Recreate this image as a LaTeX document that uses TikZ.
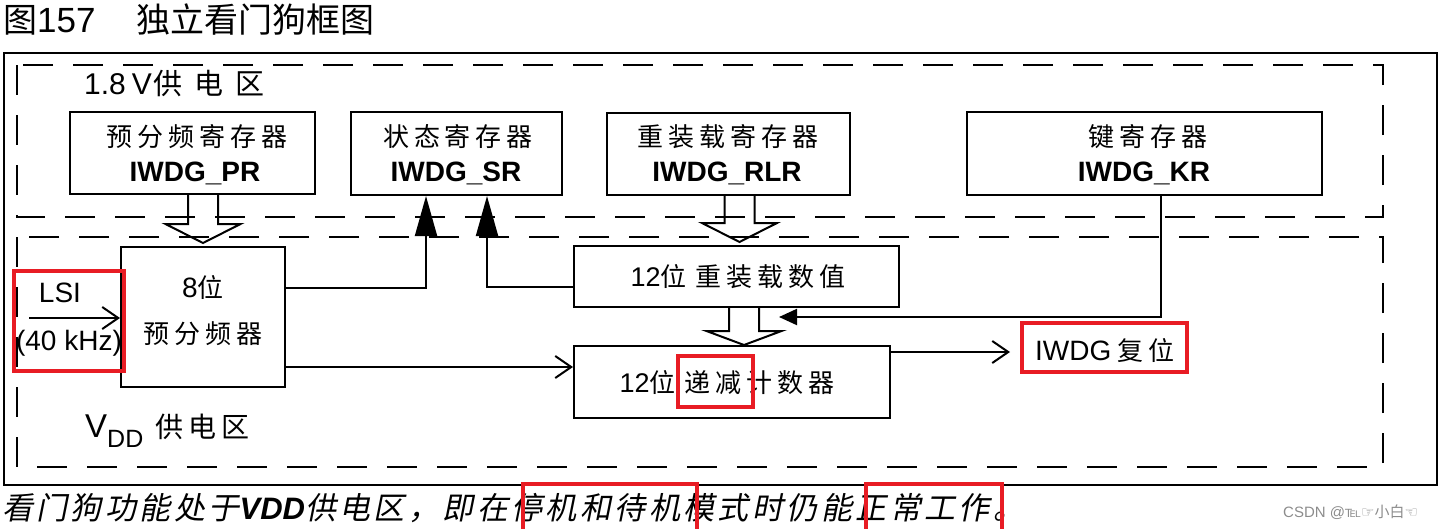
\documentclass[tikz,border=0pt]{standalone}
\usepackage{fontspec}
\setmainfont{Liberation Sans}
\newfontfamily\cjk{Noto Sans CJK SC}
\newfontfamily\cjkA[LetterSpace=19]{Noto Sans CJK SC}
\newfontfamily\cjkC[LetterSpace=41]{Noto Sans CJK SC}
\newfontfamily\cjkI[LetterSpace=11,FakeSlant=0.2]{Noto Sans CJK SC}
\newfontfamily\symf{DejaVu Sans}
\usetikzlibrary{arrows.meta}
\newcommand\fsz[1]{\fontsize{#1}{#1}\selectfont}
\definecolor{mkred}{RGB}{232,28,36}
\tikzset{
  ln/.style={line width=2pt},
  regbox/.style={draw, line width=2pt, inner sep=0pt},
  zone/.style={draw, line width=2pt, dash pattern=on 30pt off 20pt},
  hl/.style={draw=mkred, line width=4pt},
  txt/.style={inner sep=0pt, anchor=base},
  tri/.style={-{Triangle[length=40pt,width=22pt]}},
  smalltri/.style={-{Triangle[length=18pt,width=16pt]}},
  opn/.style={-{Straight Barb[length=16pt,width=22pt]}},
  pics/blk/.style n args={2}{code={
    \draw[line width=2pt] (-15,0) -- (-15,#1) -- (-37.5,#1) -- (0,#2) -- (37.5,#1) -- (15,#1) -- (15,0);}}
}
\begin{document}
\begin{tikzpicture}[x=1pt,y=-1pt]
\useasboundingbox (0,0) rectangle (1443,528);

% title
\node[txt, anchor=base west, font=\fsz{35}] (t1) at (3,32) {{\cjk\fsz{34}图}157};
\node[txt, anchor=base west, font=\fsz{34}\cjk] (t2) at (136,32) {独立看门狗框图};

% frames
\draw[ln] (4,53) rectangle (1437,485);
\draw[zone] (17,65) rectangle (1383,217);
\draw[zone] (17,237) rectangle (1383,467);

\node[txt, anchor=base west] (z1) at (84,94) {{\fsz{30}1.8\hspace{6pt}V}\hspace{2pt}{\fsz{29}\cjkC 供电区}};
\node[txt, anchor=base west] (z2) at (85,437) {{\fsz{33}V}{\fsz{25}\raisebox{-10pt}{DD}}\hspace{12pt}{\fsz{28}\cjkA 供电区}};

% register boxes
\node[regbox, minimum width=245pt, minimum height=82pt] (pr) at (192.5,153) {};
\node[regbox, minimum width=211pt, minimum height=83pt] (sr) at (456.5,153.5) {};
\node[regbox, minimum width=243pt, minimum height=82pt] (rlr) at (728.5,154) {};
\node[regbox, minimum width=355pt, minimum height=83pt] (kr) at (1144.5,153.5) {};

\node[txt, font=\fsz{26}\cjkA] (prcn) at (197,146) {预分频寄存器};
\node[txt, font=\fsz{28}\bfseries] (prid) at (195,181) {IWDG\_PR};
\node[txt, font=\fsz{26}\cjkA] (srcn) at (458,146) {状态寄存器};
\node[txt, font=\fsz{28}\bfseries] (srid) at (456,181) {IWDG\_SR};
\node[txt, font=\fsz{26}\cjkA] (rlrcn) at (728,146) {重装载寄存器};
\node[txt, font=\fsz{28}\bfseries] (rlrid) at (727,181) {IWDG\_RLR};
\node[txt, font=\fsz{26}\cjkA] (krcn) at (1148,146) {键寄存器};
\node[txt, font=\fsz{28}\bfseries] (krid) at (1144,181) {IWDG\_KR};

% VDD domain blocks
\node[regbox, minimum width=164pt, minimum height=140pt] (pre) at (203,317) {};
\node[regbox, minimum width=325pt, minimum height=61pt] (rel) at (736.5,276.5) {};
\node[regbox, minimum width=316pt, minimum height=72pt] (cnt) at (732,382) {};

\node[txt] (pre1) at (203,297) {{\fsz{28}8}{\fsz{26}\cjkA 位}};
\node[txt, font=\fsz{26}\cjkA] (pre2) at (203,343) {预分频器};
\node[txt] (relt) at (738,286) {{\fsz{27}12}{\fsz{26}\cjkA 位}\hspace{9pt}{\fsz{26}\cjkA 重装载数值}};
\node[txt] (cntt) at (727,392) {{\fsz{27}12}{\fsz{26}\cjkA 位}\hspace{9pt}{\fsz{26}\cjkA 递减计数器}};

\node[txt, font=\fsz{28}] (lsi) at (60,302) {LSI};
\node[txt, font=\fsz{28}] (khz) at (69,350) {(40 kHz)};
\node[txt, anchor=base west] (rst) at (1035,360) {{\fsz{28}IWDG}\hspace{6pt}{\fsz{26}\cjkA 复位}};

% connectors
\coordinate (lsiin) at (29,318);
\draw[ln, opn] (lsiin) -- (lsiin -| pre.west);

\coordinate (k1) at (426,288);
\draw[ln, tri] (pre.east |- k1) -- (k1) -- (k1 |- sr.south);
\coordinate (k2) at (487,287);
\draw[ln, tri] (rel.west |- k2) -- (k2) -- (k2 |- sr.south);

\coordinate (k3) at (285,367);
\draw[ln, opn] (pre.east |- k3) -- (k3 -| cnt.west);

\coordinate (k4) at (1010,352);
\draw[ln, opn] (cnt.east |- k4) -- (k4);

\coordinate (k5) at (1161,317);
\coordinate (k6) at (779,317);
\draw[ln, smalltri] (kr.south -| k5) -- (k5) -- (k6);

% hollow block arrows
\pic at (pre.north |- pr.south) {blk={29}{48}};
\coordinate (b2) at (739.5,195);
\pic at (b2) {blk={28}{47}};
\coordinate (b3) at (744,307);
\pic at (b3) {blk={24}{38}};

% caption
\node[txt, anchor=base west, font=\fsz{31}] (cap) at (2,519) {{\cjkI 看门狗功能处于}{\bfseries\itshape VDD}{\cjkI 供电区，即在停机和待机模式时仍能正常工作。}};
\node[txt, anchor=base west, font=\fsz{15}, text=black!45] (wm) at (1283,517) {CSDN @{\symf ℡☞}{\cjk 小白}{\symf ☜}};

% red highlight boxes
\draw[hl] (14,271) rectangle (124,371);
\draw[hl] (678,356) rectangle (753,407);
\draw[hl] (1022,323) rectangle (1187,372);
\draw[hl] (523,532) -- (523,484) -- (697,484) -- (697,532);
\draw[hl] (866,532) -- (866,484) -- (1002,484) -- (1002,532);
\end{tikzpicture}
\end{document}
